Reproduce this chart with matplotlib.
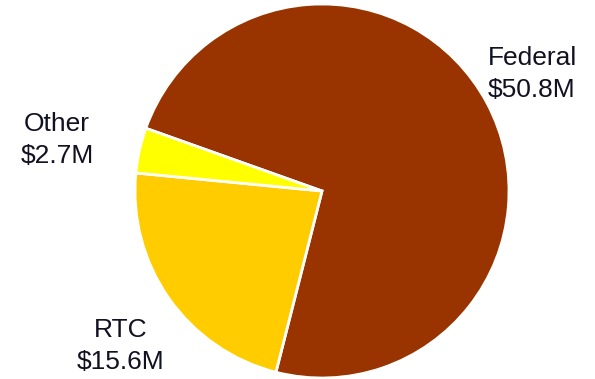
import matplotlib.pyplot as plt

labels = ['Federal', 'RTC', 'Other']
values = [50.8, 15.6, 2.7]
colors = ['#993300', '#FFCC00', '#FFFF00']

plt.rcParams['font.family'] = ['Liberation Sans', 'DejaVu Sans']

fig = plt.figure(figsize=(5.95, 3.79), dpi=100)
ax = fig.add_axes([0, 0, 1, 1])
ax.axis('off')

ax.pie(values, colors=colors, startangle=160.4, counterclock=False,
       center=(322, 188), radius=187,
       wedgeprops=dict(edgecolor='white', linewidth=2))
ax.set_xlim(0, 595)
ax.set_ylim(0, 379)
ax.set_aspect('auto')

# label positions (pixel coords, y from bottom)
label_pos = [(532, 305), (121, 33), (57, 239)]
for name, val, (x, y) in zip(labels, values, label_pos):
    ax.text(x, y, '%s\n$%.1fM' % (name, val), ha='center', va='center',
            fontsize=19, color='#111122', linespacing=1.45)

fig.savefig('out.png', dpi=100)
